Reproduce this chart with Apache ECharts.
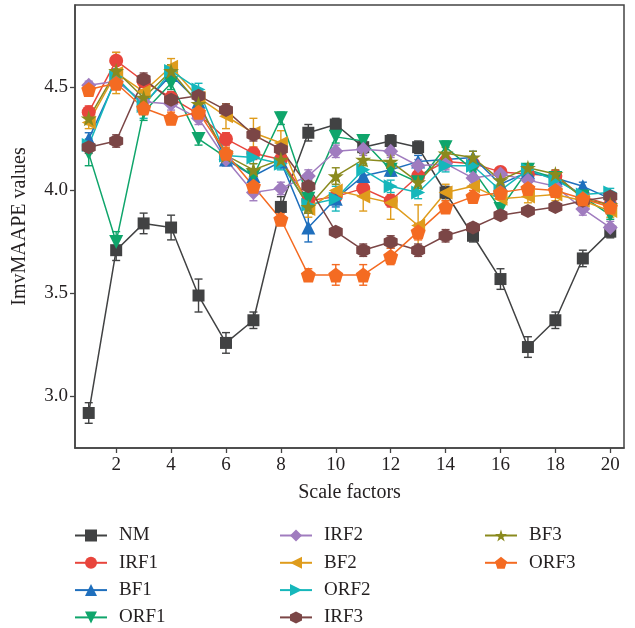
<!DOCTYPE html>
<html>
<head>
<meta charset="utf-8">
<script src="https://cdn.jsdelivr.net/npm/echarts@6/dist/echarts.min.js"></script>
<style>
  html, body { margin: 0; padding: 0; background: #fff; }
  #chart { width: 635px; height: 628px; }
</style>
</head>
<body>
<div id="chart"></div>
<script>
// Scale factors 1..20
const scaleFactors = [1, 2, 3, 4, 5, 6, 7, 8, 9, 10, 11, 12, 13, 14, 15, 16, 17, 18, 19, 20];
const xTicks = [2, 4, 6, 8, 10, 12, 14, 16, 18, 20];
const yTicks = [3.0, 3.5, 4.0, 4.5];

// Mean ImvMAAPE per method
const NM   = [2.92, 3.71, 3.84, 3.82, 3.49, 3.26, 3.37, 3.92, 4.28, 4.32, 4.21, 4.24, 4.21, 3.99, 3.78, 3.57, 3.24, 3.37, 3.67, 3.80];
const IRF1 = [4.38, 4.63, 4.53, 4.45, 4.37, 4.25, 4.18, 4.15, 3.95, 3.97, 4.01, 3.95, 4.07, 4.14, 4.13, 4.09, 4.08, 4.07, 3.97, 3.93];
const BF1  = [4.25, 4.54, 4.42, 4.56, 4.43, 4.15, 4.07, 4.14, 3.82, 3.96, 4.07, 4.10, 4.14, 4.15, 4.16, 4.03, 4.09, 4.06, 4.02, 3.96];
const ORF1 = [4.18, 3.75, 4.38, 4.52, 4.25, 4.16, 4.07, 4.35, 3.96, 4.26, 4.24, 4.10, 4.04, 4.21, 4.10, 3.91, 4.10, 4.06, 3.97, 3.88];
const IRF2 = [4.51, 4.53, 4.43, 4.42, 4.35, 4.15, 3.99, 4.01, 4.07, 4.19, 4.20, 4.19, 4.12, 4.13, 4.06, 4.08, 4.05, 4.02, 3.91, 3.82];
const BF2  = [4.33, 4.57, 4.48, 4.60, 4.45, 4.36, 4.28, 4.23, 3.91, 4.00, 3.97, 3.94, 3.83, 3.99, 4.02, 3.96, 3.97, 3.98, 3.95, 3.90];
const ORF2 = [4.22, 4.55, 4.41, 4.58, 4.49, 4.17, 4.16, 4.13, 3.93, 3.96, 4.10, 4.02, 3.99, 4.12, 4.12, 4.00, 4.10, 4.05, 3.98, 3.99];
const IRF3 = [4.21, 4.24, 4.54, 4.44, 4.46, 4.39, 4.27, 4.20, 4.02, 3.80, 3.71, 3.75, 3.71, 3.78, 3.82, 3.88, 3.90, 3.92, 3.95, 3.97];
const BF3  = [4.35, 4.58, 4.45, 4.58, 4.42, 4.17, 4.10, 4.15, 3.92, 4.07, 4.15, 4.14, 4.04, 4.18, 4.16, 4.05, 4.11, 4.08, 3.96, 3.93];
const ORF3 = [4.49, 4.52, 4.40, 4.35, 4.38, 4.18, 4.02, 3.86, 3.59, 3.59, 3.59, 3.68, 3.80, 3.92, 3.97, 3.99, 4.01, 4.00, 3.96, 3.92];

// Half-widths of the error bars
const NM_err   = [0.05, 0.05, 0.05, 0.06, 0.08, 0.05, 0.04, 0.05, 0.04, 0.03, 0.03, 0.03, 0.03, 0.03, 0.03, 0.05, 0.05, 0.04, 0.04, 0.03];
const IRF1_err = [0.03, 0.04, 0.03, 0.03, 0.03, 0.03, 0.03, 0.03, 0.03, 0.03, 0.03, 0.03, 0.03, 0.03, 0.03, 0.02, 0.02, 0.02, 0.02, 0.02];
const BF1_err  = [0.03, 0.04, 0.03, 0.03, 0.03, 0.03, 0.03, 0.03, 0.07, 0.04, 0.03, 0.03, 0.03, 0.03, 0.03, 0.02, 0.02, 0.02, 0.02, 0.02];
const ORF1_err = [0.06, 0.05, 0.04, 0.03, 0.03, 0.03, 0.03, 0.03, 0.03, 0.03, 0.03, 0.03, 0.03, 0.03, 0.03, 0.02, 0.02, 0.02, 0.02, 0.02];
const IRF2_err = [0.02, 0.03, 0.03, 0.03, 0.03, 0.03, 0.04, 0.03, 0.03, 0.03, 0.03, 0.03, 0.03, 0.03, 0.03, 0.02, 0.02, 0.02, 0.03, 0.03];
const BF2_err  = [0.03, 0.10, 0.05, 0.04, 0.04, 0.06, 0.07, 0.06, 0.04, 0.05, 0.07, 0.08, 0.10, 0.04, 0.04, 0.03, 0.03, 0.03, 0.03, 0.03];
const ORF2_err = [0.03, 0.04, 0.06, 0.03, 0.03, 0.03, 0.03, 0.03, 0.03, 0.06, 0.03, 0.03, 0.03, 0.03, 0.03, 0.02, 0.02, 0.02, 0.02, 0.02];
const IRF3_err = [0.03, 0.03, 0.03, 0.03, 0.03, 0.03, 0.03, 0.03, 0.03, 0.02, 0.03, 0.03, 0.03, 0.03, 0.02, 0.02, 0.02, 0.02, 0.02, 0.02];
const BF3_err  = [0.03, 0.03, 0.03, 0.03, 0.03, 0.03, 0.03, 0.03, 0.03, 0.04, 0.03, 0.03, 0.03, 0.03, 0.03, 0.02, 0.02, 0.02, 0.02, 0.02];
const ORF3_err = [0.03, 0.03, 0.03, 0.03, 0.03, 0.03, 0.03, 0.03, 0.03, 0.05, 0.05, 0.04, 0.04, 0.03, 0.03, 0.02, 0.02, 0.02, 0.02, 0.02];

const FONT = '"Liberation Serif", "DejaVu Serif", serif';

const SYM = {
  downTri: 'path://M0,0 L100,0 L50,90 Z',
  leftTri: 'path://M90,0 L90,100 L0,50 Z',
  rightTri: 'path://M0,0 L90,50 L0,100 Z',
  hexagon: 'path://M50,0 L93.3,25 L93.3,75 L50,100 L6.7,75 L6.7,25 Z',
  star: 'path://M50,0 L61.17,34.63 L97.55,34.55 L68.07,55.87 L79.39,90.45 L50,69 L20.61,90.45 L31.93,55.87 L2.45,34.55 L38.83,34.63 Z',
  pentagon: 'path://M50,0 L97.55,34.55 L79.39,90.45 L20.61,90.45 L2.45,34.55 Z'
};

const methods = [
  { name: 'NM',   values: NM,   err: NM_err,   color: '#414243', symbol: 'rect',        size: 12 },
  { name: 'IRF1', values: IRF1, err: IRF1_err, color: '#e8453c', symbol: 'circle',      size: 14 },
  { name: 'BF1',  values: BF1,  err: BF1_err,  color: '#1f6fbd', symbol: 'triangle',    size: 14 },
  { name: 'ORF1', values: ORF1, err: ORF1_err, color: '#0fa56b', symbol: SYM.downTri,   size: 14 },
  { name: 'IRF2', values: IRF2, err: IRF2_err, color: '#a07cbf', symbol: 'diamond',     size: 15 },
  { name: 'BF2',  values: BF2,  err: BF2_err,  color: '#df9c1c', symbol: SYM.leftTri,   size: 14 },
  { name: 'ORF2', values: ORF2, err: ORF2_err, color: '#16b7bb', symbol: SYM.rightTri,  size: 14 },
  { name: 'IRF3', values: IRF3, err: IRF3_err, color: '#7b4646', symbol: SYM.hexagon,   size: 14 },
  { name: 'BF3',  values: BF3,  err: BF3_err,  color: '#8a8a1e', symbol: SYM.star,      size: 16 },
  { name: 'ORF3', values: ORF3, err: ORF3_err, color: '#f46b22', symbol: SYM.pentagon,  size: 15 }
];

function errorBarSeries(m) {
  return {
    type: 'custom',
    name: m.name + ' error',
    z: 1,
    encode: { x: 0, y: 1 },
    data: scaleFactors.map((k, i) => [k, m.values[i], m.err[i]]),
    renderItem: function (params, api) {
      const x = api.value(0), y = api.value(1), e = api.value(2);
      const lo = api.coord([x, y - e]);
      const hi = api.coord([x, y + e]);
      const w = 4;
      const style = { stroke: m.color, lineWidth: 1.4 };
      return {
        type: 'group',
        children: [
          { type: 'line', shape: { x1: lo[0], y1: lo[1], x2: hi[0], y2: hi[1] }, style: style },
          { type: 'line', shape: { x1: lo[0] - w, y1: lo[1], x2: lo[0] + w, y2: lo[1] }, style: style },
          { type: 'line', shape: { x1: hi[0] - w, y1: hi[1], x2: hi[0] + w, y2: hi[1] }, style: style }
        ]
      };
    },
    silent: true
  };
}

const lineSeries = methods.map(m => ({
  type: 'line',
  name: m.name,
  data: scaleFactors.map((k, i) => [k, m.values[i]]),
  symbol: m.symbol,
  symbolSize: m.size,
  showAllSymbol: true,
  z: 3,
  lineStyle: { color: m.color, width: 1.5 },
  itemStyle: { color: m.color, opacity: 1 }
}));

function legendBlock(left, names) {
  return {
    orient: 'vertical',
    left: left,
    top: 526,
    height: 120,
    padding: 0,
    data: names,
    itemWidth: 32,
    itemHeight: 15,
    itemGap: 8.3,
    selectedMode: false,
    textStyle: { fontFamily: FONT, fontSize: 19, color: '#231f20', padding: [0, 0, 0, 7] }
  };
}

const chart = echarts.init(document.getElementById('chart'));
chart.setOption({
  animation: false,
  backgroundColor: '#fff',
  grid: { left: 75, right: 11, top: 5, bottom: 180, show: true, borderColor: '#444', borderWidth: 1.5, backgroundColor: 'transparent' },
  xAxis: {
    type: 'value',
    min: 0.5,
    max: 20.5,
    name: 'Scale factors',
    nameLocation: 'middle',
    nameGap: 35,
    nameTextStyle: { fontFamily: FONT, fontSize: 20, color: '#231f20' },
    axisLine: { lineStyle: { color: '#444', width: 1.5 } },
    axisTick: { show: true, inside: false, length: 5, lineStyle: { color: '#444', width: 1.3 }, customValues: xTicks },
    axisLabel: { fontFamily: FONT, fontSize: 19, color: '#231f20', margin: 8, customValues: xTicks },
    splitLine: { show: false }
  },
  yAxis: {
    type: 'value',
    min: 2.75,
    max: 4.9,
    name: 'ImvMAAPE values',
    nameLocation: 'middle',
    nameGap: 45,
    nameTextStyle: { fontFamily: FONT, fontSize: 20, color: '#231f20' },
    axisLine: { show: true, lineStyle: { color: '#444', width: 1.5 } },
    axisTick: { show: true, inside: false, length: 5, lineStyle: { color: '#444', width: 1.3 }, customValues: yTicks },
    axisLabel: { fontFamily: FONT, fontSize: 19, color: '#231f20', margin: 7, customValues: yTicks, formatter: v => v.toFixed(1) },
    splitLine: { show: false }
  },
  legend: [
    legendBlock(74, ['NM', 'IRF1', 'BF1', 'ORF1']),
    legendBlock(279, ['IRF2', 'BF2', 'ORF2', 'IRF3']),
    legendBlock(484, ['BF3', 'ORF3'])
  ],
  series: lineSeries.concat(methods.map(errorBarSeries))
});
</script>
</body>
</html>
